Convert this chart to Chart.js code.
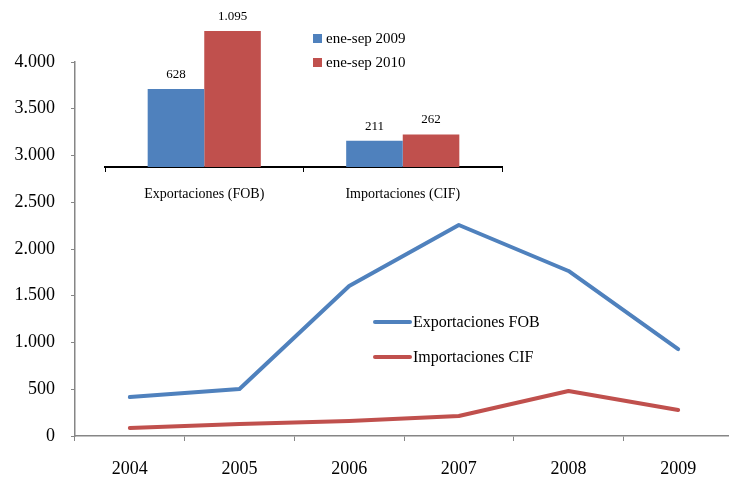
<!DOCTYPE html>
<html lang="es">
<head>
  <meta charset="UTF-8" />
  <title>Exportaciones e importaciones</title>
  <script src="https://cdn.jsdelivr.net/npm/chart.js"></script>
  <style>
    html, body {
      margin: 0;
      padding: 0;
      background: #fff;
      overflow: hidden;
    }
    .wrap {
      position: relative;
      width: 740px;
      height: 477px;
    }
    #mainChart {
      position: absolute;
      left: 0;
      top: 0;
    }
    #insetChart {
      position: absolute;
      left: 90px;
      top: 0;
    }
  </style>
</head>
<body>
  <div class="wrap">
    <canvas id="mainChart" width="740" height="477"></canvas>
    <canvas id="insetChart" width="430" height="210"></canvas>
  </div>

  <script>
    // main line chart
    const years = ['2004', '2005', '2006', '2007', '2008', '2009'];
    const exportacionesFOB = [417, 503, 1604, 2257, 1765, 930];
    const importacionesCIF = [86, 128, 160, 214, 481, 278];

    // inset bar chart
    const insetCategories = ['Exportaciones (FOB)', 'Importaciones (CIF)'];
    const eneSep2009 = [628, 211];
    const eneSep2010 = [1095, 262];

    const BLUE = '#4F81BD';
    const RED = '#C0504D';
    const AXIS_GRAY = '#868686';
    const SERIF = "'Liberation Serif', 'DejaVu Serif', serif";

    function fmt(v) {
      return String(v).replace(/\B(?=(\d{3})+(?!\d))/g, '.');
    }

    // legend drawn at a fixed spot inside the plot
    const floatLegend = {
      id: 'floatLegend',
      afterDraw(chart, args, opts) {
        const ctx = chart.ctx;
        ctx.save();
        ctx.font = opts.font;
        ctx.textBaseline = 'middle';
        chart.data.datasets.forEach((ds, i) => {
          const y = opts.y + i * opts.gap;
          const col = ds.borderColor || ds.backgroundColor;
          if (opts.type === 'line') {
            ctx.strokeStyle = col;
            ctx.lineWidth = 4;
            ctx.lineCap = 'round';
            ctx.beginPath();
            ctx.moveTo(opts.x, y);
            ctx.lineTo(opts.x + opts.sample, y);
            ctx.stroke();
          } else {
            ctx.fillStyle = ds.backgroundColor;
            ctx.fillRect(opts.x, y - 4.5, 9, 9);
          }
          ctx.fillStyle = '#000';
          ctx.fillText(ds.label, opts.x + opts.sample + opts.textGap, y + 1);
        });
        ctx.restore();
      }
    };

    // value labels over the bars
    const barValues = {
      id: 'barValues',
      afterDatasetsDraw(chart) {
        const ctx = chart.ctx;
        ctx.save();
        ctx.font = '13px ' + SERIF;
        ctx.fillStyle = '#000';
        ctx.textAlign = 'center';
        ctx.textBaseline = 'bottom';
        chart.data.datasets.forEach((ds, i) => {
          chart.getDatasetMeta(i).data.forEach((bar, j) => {
            ctx.fillText(fmt(ds.data[j]), bar.x, bar.y - 8);
          });
        });
        ctx.restore();
      }
    };

    new Chart(document.getElementById('mainChart'), {
      type: 'line',
      data: {
        labels: years,
        datasets: [
          {
            label: 'Exportaciones FOB',
            data: exportacionesFOB,
            borderColor: BLUE,
            backgroundColor: BLUE,
            borderWidth: 4,
            pointRadius: 0,
            tension: 0,
            borderCapStyle: 'round',
            borderJoinStyle: 'round'
          },
          {
            label: 'Importaciones CIF',
            data: importacionesCIF,
            borderColor: RED,
            backgroundColor: RED,
            borderWidth: 4,
            pointRadius: 0,
            tension: 0,
            borderCapStyle: 'round',
            borderJoinStyle: 'round'
          }
        ]
      },
      options: {
        responsive: false,
        animation: false,
        layout: { padding: { left: 0, top: 62, right: 7, bottom: 0 } },
        plugins: {
          legend: { display: false },
          tooltip: { enabled: false },
          floatLegend: { x: 375, y: 322, gap: 35, sample: 35, textGap: 3, type: 'line', font: '16px ' + SERIF }
        },
        scales: {
          x: {
            offset: true,
            grid: { offset: true, drawOnChartArea: false, drawTicks: true, tickLength: 5, color: AXIS_GRAY },
            border: { color: AXIS_GRAY, width: 1.5 },
            ticks: { color: '#000', font: { family: SERIF, size: 18 }, padding: 17, maxRotation: 0 },
            afterFit: (s) => { s.height = 41; }
          },
          y: {
            min: 0,
            max: 4000,
            ticks: { stepSize: 500, color: '#000', font: { family: SERIF, size: 18 }, padding: 16, callback: (v) => fmt(v) },
            grid: { drawOnChartArea: false, drawTicks: true, tickLength: 4, color: AXIS_GRAY },
            border: { color: AXIS_GRAY, width: 1.5 },
            afterFit: (s) => { s.width = 75; }
          }
        }
      },
      plugins: [floatLegend]
    });

    new Chart(document.getElementById('insetChart'), {
      type: 'bar',
      data: {
        labels: insetCategories,
        datasets: [
          { label: 'ene-sep 2009', data: eneSep2009, backgroundColor: BLUE },
          { label: 'ene-sep 2010', data: eneSep2010, backgroundColor: RED }
        ]
      },
      options: {
        responsive: false,
        animation: false,
        layout: { padding: { left: 15, top: 18, right: 18, bottom: 0 } },
        datasets: { bar: { categoryPercentage: 0.57, barPercentage: 1 } },
        plugins: {
          legend: { display: false },
          tooltip: { enabled: false },
          floatLegend: { x: 223, y: 38.5, gap: 24, sample: 9, textGap: 4, type: 'box', font: '15px ' + SERIF }
        },
        scales: {
          x: {
            grid: { offset: true, drawOnChartArea: false, drawTicks: true, tickLength: 5, color: '#000' },
            border: { color: '#000', width: 2 },
            ticks: { color: '#000', font: { family: SERIF, size: 14 }, padding: 14, maxRotation: 0 },
            afterFit: (s) => { s.height = 43; }
          },
          y: {
            display: false,
            min: 0,
            max: 1200
          }
        }
      },
      plugins: [floatLegend, barValues]
    });
  </script>
</body>
</html>
